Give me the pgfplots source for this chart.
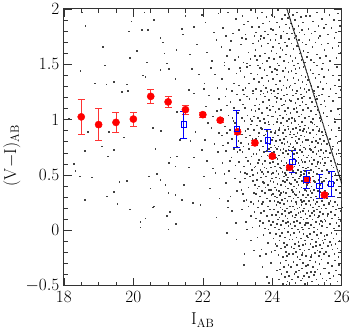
\documentclass[border=0pt]{standalone}
\usepackage{pgfplots}
\pgfplotsset{compat=1.18}

\begin{document}
\begin{tikzpicture}
\begin{axis}[
    scale only axis,
    width=278bp, height=277bp,
    xmin=18, xmax=26, ymin=-0.5, ymax=2,
    xtick={18,20,22,24,26}, minor x tick num=3,
    ytick={-0.5,0,0.5,1,1.5,2}, minor y tick num=4,
    tick align=inside,
    major tick length=8bp, minor tick length=4bp,
    axis line style={line width=1.2bp, black!80},
    every tick/.style={black!80, line width=0.6bp},
    tick label style={font=\fontsize{17}{17}\selectfont},
    yticklabel style={xshift=-1bp},
    xticklabel style={yshift=-2bp},
    label style={font=\fontsize{17}{17}\selectfont},
    xlabel={$\mathrm{I_{AB}}$},
    ylabel={$\mathrm{(V{-}I)_{AB}}$},
    xlabel style={at={(axis description cs:0.5,-0.125)}, anchor=center},
    ylabel style={at={(axis description cs:-0.187,0.47)}, anchor=center},
    clip=true,
]

% faint field sources
\addplot[only marks, mark=square*, mark size=0.32bp, black!75,
         mark options={draw=none, fill=black!75}] coordinates {
(18.52,1.97) (18.61,1.85) (19.12,1.66) (18.47,1.44) (19.17,1.49) (18.88,1.33) (19.22,1.32) (19.43,1.34) (19.81,1.32) (19.67,1.25)
(19.84,1.26) (18.14,1.01) (18.69,0.89) (19.29,0.89) (19.72,0.84) (18.60,0.72) (19.09,0.76) (19.26,0.67) (19.43,0.73) (18.28,0.60)
(18.33,0.54) (18.45,0.49) (18.81,0.48) (19.59,0.44) (19.81,0.45) (18.60,0.28) (19.24,0.31) (19.43,0.35) (19.53,0.24) (19.89,0.19)
(20.20,0.08) (20.34,0.11) (20.20,0.03) (19.94,1.89) (19.86,1.80) (20.24,1.81) (20.41,1.81) (20.31,1.97) (20.58,1.90) (20.10,1.62)
(19.89,1.56) (20.39,1.52) (20.27,1.40) (20.34,1.39) (20.77,1.74) (20.85,1.70) (20.89,1.60) (20.96,1.51) (20.77,1.45) (21.01,1.46)
(21.20,1.37) (21.23,1.63) (21.42,1.77) (21.49,1.94) (21.40,1.82) (21.73,1.84) (21.62,1.59) (21.68,1.46) (21.59,1.27) (21.83,1.68)
(20.55,0.93) (20.79,0.90) (20.63,0.74) (20.44,0.49) (20.68,0.51) (20.48,0.38) (20.77,0.46) (20.92,0.41) (21.00,0.34) (21.20,0.32)
(21.06,0.66) (21.01,0.61) (21.20,0.58) (21.25,0.67) (20.96,0.13) (21.00,0.01) (20.58,0.22) (21.04,0.17) (21.40,0.28) (21.45,0.41)
(21.59,0.57) (21.73,0.66) (21.71,0.25) (21.92,0.23) (22.02,0.49) (21.97,0.73) (21.33,0.82) (21.64,0.81) (21.78,0.89) (21.25,1.07)
(21.73,1.24) (22.02,1.28) (21.22,0.06) (20.56,0.21) (21.96,1.95) (21.88,1.41)
(22.07,1.88) (22.31,1.79) (22.44,1.96) (22.12,1.61) (22.38,1.72) (22.26,1.53) (22.04,1.33) (22.22,1.47) (22.41,1.29) (22.35,1.41)
(22.09,1.12) (22.28,1.03) (22.46,1.19) (22.17,1.22) (22.39,1.08) (22.06,0.82) (22.24,0.93) (22.33,0.78) (22.45,0.88) (22.14,0.97)
(22.11,0.63) (22.29,0.56) (22.42,0.71) (22.36,0.52) (22.19,0.38) (22.47,0.29) (22.38,0.12)
(22.58,1.83) (22.71,1.97) (22.86,1.78) (22.94,1.91) (22.66,1.76) (22.53,1.66) (22.69,1.58) (22.81,1.71) (22.92,1.54) (22.77,1.63)
(22.62,1.52) (22.55,1.37) (22.67,1.28) (22.74,1.46) (22.89,1.33) (22.96,1.42) (22.61,1.49) (22.83,1.26) (22.52,1.09) (22.64,1.21)
(22.73,1.04) (22.79,1.16) (22.88,1.11) (22.97,1.23) (22.59,1.01) (22.85,1.02) (22.68,1.13) (22.54,0.86) (22.63,0.94) (22.72,0.79)
(22.78,0.91) (22.84,0.83) (22.91,0.97) (22.98,0.76) (22.57,0.77) (22.69,0.88) (22.87,0.99) (22.56,0.61) (22.65,0.72) (22.74,0.54)
(22.82,0.66) (22.93,0.59) (22.99,0.71) (22.61,0.51) (22.77,0.63) (22.88,0.74) (22.66,0.43) (22.79,0.31) (22.91,0.47) (22.97,0.36)
(22.72,0.27) (22.83,0.18) (22.94,0.07) (22.71,0.21) (22.96,-0.08) (22.69,-0.02)
(23.04,1.81) (23.13,1.94) (23.22,1.77) (23.29,1.89) (23.37,1.99) (23.41,1.84) (23.48,1.76) (23.18,1.86) (23.02,1.57) (23.09,1.68)
(23.16,1.52) (23.24,1.73) (23.31,1.61) (23.36,1.55) (23.44,1.69) (23.49,1.58) (23.27,1.51) (23.11,1.74) (23.03,1.31) (23.08,1.44)
(23.14,1.27) (23.19,1.39) (23.26,1.48) (23.32,1.33) (23.38,1.42) (23.43,1.26) (23.47,1.37) (23.22,1.29) (23.35,1.49) (23.06,1.47)
(23.01,1.06) (23.07,1.18) (23.12,1.02) (23.17,1.23) (23.21,1.11) (23.28,1.04) (23.33,1.19) (23.39,1.09) (23.44,1.24) (23.49,1.13)
(23.15,1.14) (23.26,1.21) (23.36,1.01) (23.46,1.03) (23.02,0.81) (23.05,0.94) (23.11,0.87) (23.16,0.76) (23.19,0.99) (23.24,0.84)
(23.29,0.92) (23.31,0.78) (23.37,0.96) (23.42,0.83) (23.46,0.91) (23.49,0.77) (23.09,0.79) (23.22,0.90) (23.34,0.86) (23.40,0.99)
(23.03,0.62) (23.08,0.53) (23.13,0.71) (23.18,0.58) (23.23,0.66) (23.27,0.51) (23.32,0.74) (23.36,0.60) (23.41,0.55) (23.45,0.69)
(23.48,0.57) (23.06,0.73) (23.20,0.52) (23.29,0.63) (23.39,0.67) (23.44,0.50) (23.06,0.44) (23.14,0.33) (23.21,0.47) (23.25,0.28)
(23.31,0.39) (23.38,0.26) (23.43,0.45) (23.47,0.34) (23.17,0.27) (23.35,0.49) (23.10,0.37) (23.49,0.41) (23.12,0.19) (23.23,0.08)
(23.31,0.22) (23.37,0.13) (23.42,0.03) (23.48,0.17) (23.27,0.01) (23.45,0.24) (23.19,-0.21) (23.38,-0.09) (23.47,-0.18) (23.17,-0.31)
(23.52,1.79) (23.57,1.92) (23.61,1.84) (23.66,1.76) (23.69,1.97) (23.73,1.87) (23.78,1.80) (23.82,1.93) (23.87,1.77) (23.91,1.89)
(23.95,1.82) (23.98,1.95) (23.51,1.63) (23.55,1.54) (23.59,1.71) (23.63,1.58) (23.68,1.67) (23.71,1.51) (23.75,1.74) (23.79,1.60)
(23.83,1.53) (23.86,1.69) (23.90,1.56) (23.94,1.72) (23.97,1.62) (23.65,1.73) (23.53,1.28) (23.56,1.41) (23.60,1.34) (23.64,1.47)
(23.67,1.26) (23.70,1.38) (23.74,1.31) (23.77,1.45) (23.81,1.29) (23.84,1.40) (23.88,1.35) (23.92,1.48) (23.96,1.27) (23.99,1.43)
(23.58,1.49) (23.85,1.25) (23.51,1.08) (23.54,1.19) (23.58,1.02) (23.62,1.14) (23.65,1.23) (23.69,1.06) (23.72,1.16) (23.76,1.01)
(23.79,1.21) (23.83,1.11) (23.86,1.04) (23.89,1.18) (23.93,1.09) (23.97,1.24) (23.99,1.03) (23.60,1.10) (23.74,1.24) (23.91,1.13)
(23.52,0.83) (23.55,0.95) (23.57,0.77) (23.61,0.88) (23.63,0.99) (23.67,0.81) (23.70,0.92) (23.73,0.76) (23.75,0.86) (23.78,0.97)
(23.81,0.79) (23.84,0.90) (23.87,0.84) (23.90,0.96) (23.92,0.78) (23.95,0.89) (23.98,0.82) (23.59,0.85) (23.66,0.93) (23.80,0.87)
(23.88,0.98) (23.96,0.75) (23.51,0.58) (23.54,0.69) (23.56,0.52) (23.60,0.64) (23.62,0.73) (23.65,0.55) (23.68,0.67) (23.71,0.60)
(23.74,0.51) (23.76,0.71) (23.79,0.63) (23.82,0.56) (23.85,0.68) (23.87,0.53) (23.90,0.74) (23.93,0.61) (23.96,0.57) (23.99,0.70)
(23.58,0.61) (23.69,0.53) (23.77,0.57) (23.83,0.72) (23.91,0.66) (23.97,0.51) (23.52,0.33) (23.55,0.46) (23.59,0.27) (23.61,0.40)
(23.64,0.31) (23.67,0.48) (23.70,0.36) (23.73,0.26) (23.76,0.43) (23.78,0.34) (23.81,0.49) (23.84,0.29) (23.86,0.41) (23.89,0.37)
(23.92,0.27) (23.94,0.45) (23.97,0.32) (23.99,0.47) (23.57,0.38) (23.72,0.44) (23.80,0.39) (23.95,0.37) (23.53,0.11) (23.58,0.21)
(23.62,0.04) (23.66,0.16) (23.69,0.24) (23.72,0.07) (23.76,0.18) (23.79,0.02) (23.83,0.13) (23.86,0.22) (23.90,0.09) (23.93,0.19)
(23.96,0.05) (23.99,0.14) (23.64,0.09) (23.88,0.01) (23.56,-0.06) (23.68,-0.17) (23.74,-0.04) (23.81,-0.21) (23.87,-0.11) (23.92,-0.02)
(23.97,-0.19) (23.63,-0.23) (23.71,-0.33) (23.84,-0.42) (23.95,-0.29) (23.90,-0.47)
(24.02,1.81) (24.05,1.93) (24.09,1.77) (24.13,1.88) (24.16,1.99) (24.20,1.84) (24.24,1.76) (24.27,1.91) (24.31,1.80) (24.35,1.95)
(24.38,1.86) (24.42,1.78) (24.45,1.92) (24.49,1.83) (24.01,1.66) (24.04,1.55) (24.08,1.72) (24.11,1.60) (24.14,1.51) (24.18,1.69)
(24.21,1.57) (24.25,1.74) (24.28,1.63) (24.32,1.53) (24.35,1.70) (24.39,1.59) (24.42,1.67) (24.46,1.52) (24.48,1.73) (24.23,1.65)
(24.02,1.37) (24.04,1.26) (24.07,1.46) (24.10,1.32) (24.13,1.41) (24.16,1.28) (24.19,1.49) (24.22,1.35) (24.26,1.27) (24.29,1.44)
(24.31,1.31) (24.34,1.39) (24.37,1.47) (24.40,1.29) (24.43,1.36) (24.46,1.43) (24.49,1.30) (24.12,1.45) (24.01,1.12) (24.03,1.03)
(24.06,1.21) (24.08,1.07) (24.11,1.16) (24.14,1.01) (24.16,1.24) (24.19,1.10) (24.21,1.04) (24.24,1.19) (24.27,1.13) (24.29,1.02)
(24.32,1.22) (24.35,1.08) (24.37,1.17) (24.40,1.05) (24.42,1.23) (24.45,1.11) (24.47,1.01) (24.49,1.18) (24.13,1.20) (24.33,1.14)
(24.01,0.84) (24.03,0.96) (24.05,0.77) (24.08,0.90) (24.10,0.81) (24.12,0.98) (24.15,0.86) (24.17,0.76) (24.20,0.93) (24.22,0.82)
(24.25,0.97) (24.27,0.79) (24.29,0.88) (24.31,0.95) (24.34,0.78) (24.36,0.91) (24.38,0.85) (24.41,0.99) (24.43,0.80) (24.46,0.92)
(24.48,0.76) (24.50,0.87) (24.07,0.88) (24.18,0.91) (24.33,0.83) (24.44,0.94) (24.01,0.62) (24.02,0.52) (24.04,0.71) (24.06,0.58)
(24.09,0.66) (24.11,0.54) (24.13,0.74) (24.15,0.60) (24.17,0.51) (24.19,0.68) (24.21,0.57) (24.23,0.73) (24.26,0.63) (24.28,0.53)
(24.30,0.70) (24.32,0.59) (24.34,0.66) (24.36,0.52) (24.38,0.72) (24.40,0.61) (24.42,0.55) (24.44,0.69) (24.47,0.58) (24.49,0.64)
(24.08,0.75) (24.24,0.56) (24.31,0.74) (24.39,0.50) (24.46,0.73) (24.14,0.65) (24.01,0.33) (24.03,0.44) (24.05,0.27) (24.07,0.39)
(24.09,0.48) (24.12,0.30) (24.14,0.42) (24.16,0.26) (24.18,0.36) (24.20,0.47) (24.22,0.32) (24.24,0.41) (24.27,0.28) (24.29,0.45)
(24.31,0.35) (24.33,0.49) (24.35,0.29) (24.37,0.40) (24.39,0.34) (24.41,0.46) (24.43,0.27) (24.45,0.38) (24.47,0.31) (24.49,0.43)
(24.11,0.37) (24.25,0.34) (24.36,0.44) (24.44,0.48) (24.06,0.31) (24.21,0.25) (24.02,0.08) (24.04,0.19) (24.06,0.03) (24.09,0.14)
(24.11,0.23) (24.13,0.06) (24.16,0.17) (24.18,0.01) (24.20,0.12) (24.23,0.21) (24.25,0.05) (24.27,0.15) (24.30,0.09) (24.32,0.24)
(24.34,0.02) (24.36,0.18) (24.39,0.07) (24.41,0.20) (24.43,0.11) (24.46,0.04) (24.48,0.16) (24.50,0.22) (24.15,0.10) (24.28,0.19)
(24.37,0.13) (24.45,0.08) (24.03,-0.07) (24.06,-0.18) (24.10,-0.03) (24.13,-0.14) (24.17,-0.22) (24.20,-0.09) (24.24,-0.16) (24.27,-0.02)
(24.30,-0.24) (24.33,-0.11) (24.36,-0.06) (24.38,-0.19) (24.41,-0.13) (24.44,-0.01) (24.47,-0.21) (24.49,-0.08) (24.22,-0.05) (24.35,-0.15)
(24.08,-0.12) (24.42,-0.23) (24.12,-0.36) (24.18,-0.44) (24.23,-0.29) (24.26,-0.39) (24.29,-0.48) (24.32,-0.33) (24.35,-0.42) (24.38,-0.27)
(24.41,-0.37) (24.43,-0.46) (24.46,-0.31) (24.48,-0.41) (24.21,-0.35) (24.40,-0.49)
(24.52,1.87) (24.55,1.78) (24.58,1.95) (24.61,1.82) (24.64,1.90) (24.68,1.76) (24.71,1.97) (24.74,1.85) (24.77,1.79) (24.81,1.93)
(24.84,1.81) (24.88,1.88) (24.92,1.77) (24.96,1.94) (24.51,1.58) (24.54,1.69) (24.57,1.53) (24.60,1.64) (24.63,1.74) (24.66,1.56)
(24.70,1.67) (24.73,1.51) (24.76,1.72) (24.79,1.60) (24.83,1.54) (24.86,1.70) (24.89,1.62) (24.93,1.52) (24.97,1.68) (24.99,1.57)
(24.52,1.31) (24.54,1.44) (24.57,1.27) (24.60,1.38) (24.62,1.49) (24.65,1.33) (24.68,1.42) (24.71,1.26) (24.74,1.36) (24.77,1.47)
(24.80,1.29) (24.83,1.40) (24.86,1.34) (24.89,1.48) (24.92,1.28) (24.95,1.39) (24.98,1.32) (24.66,1.46) (24.51,1.06) (24.53,1.17)
(24.56,1.02) (24.58,1.22) (24.61,1.10) (24.63,1.01) (24.66,1.15) (24.68,1.24) (24.71,1.07) (24.73,1.19) (24.76,1.03) (24.78,1.13)
(24.81,1.23) (24.83,1.05) (24.86,1.16) (24.88,1.09) (24.91,1.21) (24.93,1.02) (24.96,1.14) (24.98,1.25) (24.69,1.11) (24.85,1.20)
(24.51,0.89) (24.52,0.78) (24.54,0.97) (24.56,0.84) (24.58,0.92) (24.60,0.76) (24.62,0.87) (24.64,0.99) (24.66,0.81) (24.68,0.93)
(24.70,0.79) (24.72,0.88) (24.74,0.96) (24.76,0.83) (24.78,0.91) (24.80,0.77) (24.82,0.86) (24.84,0.98) (24.86,0.80) (24.88,0.90)
(24.90,0.75) (24.92,0.85) (24.94,0.95) (24.96,0.82) (24.98,0.89) (24.67,0.85) (24.79,0.94) (24.91,0.92) (24.51,0.56) (24.52,0.67)
(24.54,0.51) (24.56,0.72) (24.57,0.61) (24.59,0.54) (24.61,0.69) (24.63,0.58) (24.65,0.74) (24.67,0.52) (24.69,0.63) (24.71,0.70)
(24.73,0.55) (24.75,0.66) (24.77,0.59) (24.79,0.73) (24.81,0.53) (24.83,0.64) (24.85,0.71) (24.87,0.57) (24.89,0.68) (24.91,0.51)
(24.93,0.62) (24.95,0.74) (24.97,0.56) (24.99,0.66) (24.62,0.65) (24.74,0.61) (24.86,0.62) (24.94,0.54) (24.58,0.75) (24.82,0.50)
(24.51,0.31) (24.53,0.42) (24.54,0.27) (24.56,0.37) (24.58,0.48) (24.60,0.29) (24.62,0.40) (24.63,0.33) (24.65,0.46) (24.67,0.26)
(24.69,0.38) (24.71,0.44) (24.73,0.30) (24.75,0.41) (24.77,0.35) (24.79,0.49) (24.81,0.28) (24.83,0.39) (24.85,0.45) (24.87,0.32)
(24.89,0.43) (24.91,0.27) (24.93,0.37) (24.95,0.47) (24.97,0.30) (24.99,0.41) (24.59,0.35) (24.68,0.32) (24.76,0.47) (24.84,0.26)
(24.92,0.49) (24.98,0.36) (24.51,0.06) (24.53,0.17) (24.55,0.02) (24.57,0.13) (24.59,0.22) (24.61,0.08) (24.63,0.19) (24.65,0.04)
(24.67,0.14) (24.69,0.24) (24.71,0.09) (24.73,0.01) (24.75,0.16) (24.77,0.21) (24.79,0.07) (24.81,0.12) (24.83,0.23) (24.85,0.03)
(24.87,0.18) (24.89,0.10) (24.91,0.20) (24.93,0.05) (24.95,0.15) (24.97,0.24) (24.99,0.11) (24.64,0.12) (24.72,0.20) (24.80,0.17)
(24.88,0.01) (24.96,0.07) (24.52,-0.04) (24.54,-0.15) (24.57,-0.08) (24.59,-0.21) (24.62,-0.02) (24.64,-0.12) (24.67,-0.19) (24.69,-0.06)
(24.72,-0.24) (24.74,-0.10) (24.77,-0.01) (24.79,-0.17) (24.82,-0.07) (24.84,-0.22) (24.87,-0.13) (24.89,-0.03) (24.92,-0.18) (24.94,-0.09)
(24.97,-0.23) (24.99,-0.05) (24.61,-0.16) (24.76,-0.14) (24.86,-0.20) (24.95,-0.12) (24.53,-0.33) (24.56,-0.44) (24.60,-0.28) (24.63,-0.39)
(24.66,-0.47) (24.70,-0.31) (24.73,-0.42) (24.76,-0.36) (24.79,-0.26) (24.82,-0.45) (24.85,-0.34) (24.88,-0.29) (24.91,-0.41) (24.94,-0.48)
(24.97,-0.32) (24.99,-0.38) (24.68,-0.37) (24.86,-0.43)
(25.03,1.82) (25.08,1.94) (25.12,1.78) (25.17,1.89) (25.22,1.80) (25.27,1.97) (25.32,1.85) (25.37,1.76) (25.42,1.91) (25.47,1.83)
(25.02,1.61) (25.06,1.72) (25.10,1.54) (25.15,1.66) (25.19,1.52) (25.23,1.70) (25.28,1.59) (25.32,1.74) (25.36,1.56) (25.41,1.68)
(25.45,1.51) (25.49,1.63) (25.01,1.36) (25.05,1.27) (25.09,1.45) (25.12,1.31) (25.16,1.42) (25.20,1.26) (25.23,1.38) (25.27,1.49)
(25.31,1.30) (25.34,1.41) (25.38,1.34) (25.42,1.46) (25.45,1.28) (25.48,1.39) (25.01,1.11) (25.04,1.03) (25.07,1.20) (25.10,1.08)
(25.13,1.16) (25.16,1.01) (25.19,1.24) (25.22,1.12) (25.25,1.05) (25.28,1.19) (25.31,1.09) (25.34,1.22) (25.37,1.02) (25.40,1.14)
(25.43,1.23) (25.46,1.06) (25.49,1.17) (25.26,1.21) (25.01,0.82) (25.03,0.93) (25.06,0.77) (25.08,0.88) (25.11,0.98) (25.13,0.80)
(25.16,0.91) (25.18,0.84) (25.21,0.96) (25.23,0.76) (25.26,0.87) (25.28,0.94) (25.31,0.79) (25.33,0.90) (25.36,0.83) (25.38,0.99)
(25.41,0.78) (25.43,0.89) (25.46,0.95) (25.48,0.81) (25.15,0.97) (25.25,0.81) (25.35,0.92) (25.45,0.86) (25.01,0.57) (25.03,0.68)
(25.04,0.52) (25.06,0.63) (25.08,0.74) (25.10,0.55) (25.12,0.66) (25.14,0.60) (25.16,0.71) (25.18,0.53) (25.20,0.64) (25.22,0.75)
(25.24,0.58) (25.26,0.69) (25.28,0.51) (25.30,0.62) (25.32,0.72) (25.34,0.56) (25.36,0.67) (25.38,0.61) (25.40,0.73) (25.42,0.54)
(25.44,0.65) (25.46,0.70) (25.48,0.59) (25.50,0.66) (25.29,0.60) (25.11,0.73) (25.01,0.32) (25.02,0.43) (25.04,0.27) (25.06,0.38)
(25.08,0.47) (25.10,0.30) (25.12,0.40) (25.14,0.34) (25.16,0.49) (25.18,0.28) (25.20,0.37) (25.22,0.44) (25.24,0.31) (25.26,0.42)
(25.28,0.26) (25.30,0.36) (25.32,0.46) (25.34,0.29) (25.36,0.41) (25.38,0.35) (25.40,0.48) (25.42,0.27) (25.44,0.39) (25.46,0.33)
(25.48,0.45) (25.50,0.30) (25.09,0.36) (25.19,0.45) (25.33,0.38) (25.43,0.44) (25.01,0.07) (25.03,0.18) (25.05,0.02) (25.07,0.13)
(25.09,0.23) (25.11,0.05) (25.13,0.16) (25.15,0.10) (25.17,0.21) (25.19,0.03) (25.21,0.14) (25.23,0.24) (25.25,0.08) (25.27,0.19)
(25.29,0.01) (25.31,0.12) (25.33,0.22) (25.35,0.06) (25.37,0.17) (25.39,0.09) (25.41,0.20) (25.43,0.04) (25.45,0.15) (25.47,0.23)
(25.49,0.10) (25.20,0.18) (25.34,0.13) (25.44,0.08) (25.02,-0.06) (25.04,-0.17) (25.07,-0.03) (25.09,-0.12) (25.12,-0.22) (25.14,-0.08)
(25.17,-0.15) (25.19,-0.01) (25.22,-0.20) (25.24,-0.10) (25.27,-0.04) (25.29,-0.18) (25.32,-0.07) (25.34,-0.23) (25.37,-0.13) (25.39,-0.02)
(25.42,-0.16) (25.44,-0.09) (25.47,-0.21) (25.49,-0.05) (25.10,-0.24) (25.25,-0.14) (25.36,-0.19) (25.46,-0.11) (25.02,-0.31) (25.05,-0.42)
(25.08,-0.27) (25.11,-0.37) (25.14,-0.46) (25.17,-0.33) (25.20,-0.40) (25.23,-0.28) (25.26,-0.44) (25.29,-0.35) (25.32,-0.49) (25.35,-0.30)
(25.38,-0.39) (25.41,-0.26) (25.44,-0.43) (25.47,-0.34) (25.49,-0.47) (25.22,-0.37)
(25.54,1.86) (25.59,1.77) (25.64,1.95) (25.70,1.83) (25.76,1.90) (25.82,1.79) (25.88,1.96) (25.94,1.85) (25.53,1.58) (25.60,1.69)
(25.66,1.53) (25.72,1.65) (25.78,1.74) (25.84,1.56) (25.90,1.67) (25.96,1.61) (25.55,1.33) (25.61,1.45) (25.67,1.28) (25.73,1.40)
(25.79,1.31) (25.85,1.48) (25.91,1.36) (25.97,1.27) (25.52,1.12) (25.57,1.03) (25.62,1.21) (25.68,1.08) (25.73,1.17) (25.78,1.01)
(25.83,1.24) (25.88,1.10) (25.93,1.05) (25.98,1.19) (25.52,0.87) (25.56,0.78) (25.61,0.95) (25.65,0.83) (25.70,0.91) (25.74,0.76)
(25.79,0.98) (25.83,0.85) (25.87,0.79) (25.91,0.93) (25.95,0.81) (25.98,0.90) (25.51,0.61) (25.54,0.72) (25.57,0.55) (25.60,0.66)
(25.63,0.52) (25.66,0.70) (25.69,0.59) (25.72,0.74) (25.75,0.57) (25.78,0.64) (25.81,0.51) (25.84,0.69) (25.87,0.60) (25.90,0.73)
(25.93,0.54) (25.96,0.67) (25.98,0.58) (25.68,0.63) (25.51,0.36) (25.53,0.47) (25.56,0.29) (25.59,0.41) (25.61,0.33) (25.64,0.45)
(25.67,0.27) (25.70,0.38) (25.72,0.49) (25.75,0.31) (25.78,0.43) (25.80,0.26) (25.83,0.37) (25.86,0.46) (25.88,0.30) (25.91,0.40)
(25.94,0.34) (25.96,0.48) (25.98,0.28) (25.62,0.25) (25.52,0.09) (25.54,0.20) (25.57,0.03) (25.60,0.15) (25.62,0.24) (25.65,0.06)
(25.68,0.17) (25.71,0.11) (25.73,0.22) (25.76,0.02) (25.79,0.14) (25.82,0.19) (25.84,0.07) (25.87,0.23) (25.90,0.12) (25.92,0.04)
(25.95,0.18) (25.97,0.09) (25.99,0.21) (25.58,0.13) (25.51,-0.08) (25.54,-0.19) (25.57,-0.04) (25.60,-0.14) (25.63,-0.23) (25.66,-0.10)
(25.69,-0.02) (25.72,-0.17) (25.75,-0.07) (25.78,-0.21) (25.81,-0.12) (25.84,-0.03) (25.87,-0.16) (25.90,-0.24) (25.93,-0.09) (25.96,-0.18)
(25.98,-0.05) (25.70,-0.13) (25.52,-0.34) (25.55,-0.45) (25.59,-0.29) (25.63,-0.38) (25.67,-0.48) (25.71,-0.32) (25.75,-0.41) (25.79,-0.27)
(25.83,-0.36) (25.87,-0.46) (25.91,-0.31) (25.95,-0.40) (25.98,-0.35) (25.65,-0.43)
};

% magnitude limit
\addplot[black, line width=1bp, dash pattern=on 1bp off 0.5bp] coordinates {(24.42,2.0) (26.0,0.42)};

% red: binned colours
\addplot[only marks, mark=*, mark size=3.6bp, red,
         mark options={fill=red, draw=red},
         error bars/.cd, y dir=both, y explicit,
         error bar style={red!80, line width=0.7bp},
         error mark options={rotate=90, mark size=3.5bp, red!80, line width=0.7bp}]
table[x=x, y=y, y error=e] {
x     y     e
18.5  1.025 0.160
19.0  0.955 0.145
19.5  0.975 0.090
20.0  1.005 0.065
20.5  1.210 0.065
21.0  1.160 0.050
21.5  1.090 0.040
22.0  1.045 0.020
22.5  0.995 0.020
23.0  0.890 0.020
23.5  0.790 0.020
24.0  0.670 0.020
24.5  0.570 0.020
25.0  0.455 0.020
25.5  0.320 0.020
};

% blue: comparison sample
\addplot[only marks, mark=square, mark size=2.8bp, blue,
         mark options={line width=0.8bp},
         error bars/.cd, y dir=both, y explicit,
         error bar style={blue, line width=0.8bp},
         error mark options={rotate=90, mark size=3.5bp, blue, line width=0.8bp}]
table[x=x, y=y, y error=e] {
x     y     e
21.45 0.955 0.120
22.98 0.915 0.170
23.87 0.810 0.100
24.57 0.620 0.100
24.98 0.460 0.080
25.36 0.400 0.110
25.69 0.420 0.110
};

\end{axis}
\end{tikzpicture}
\end{document}
